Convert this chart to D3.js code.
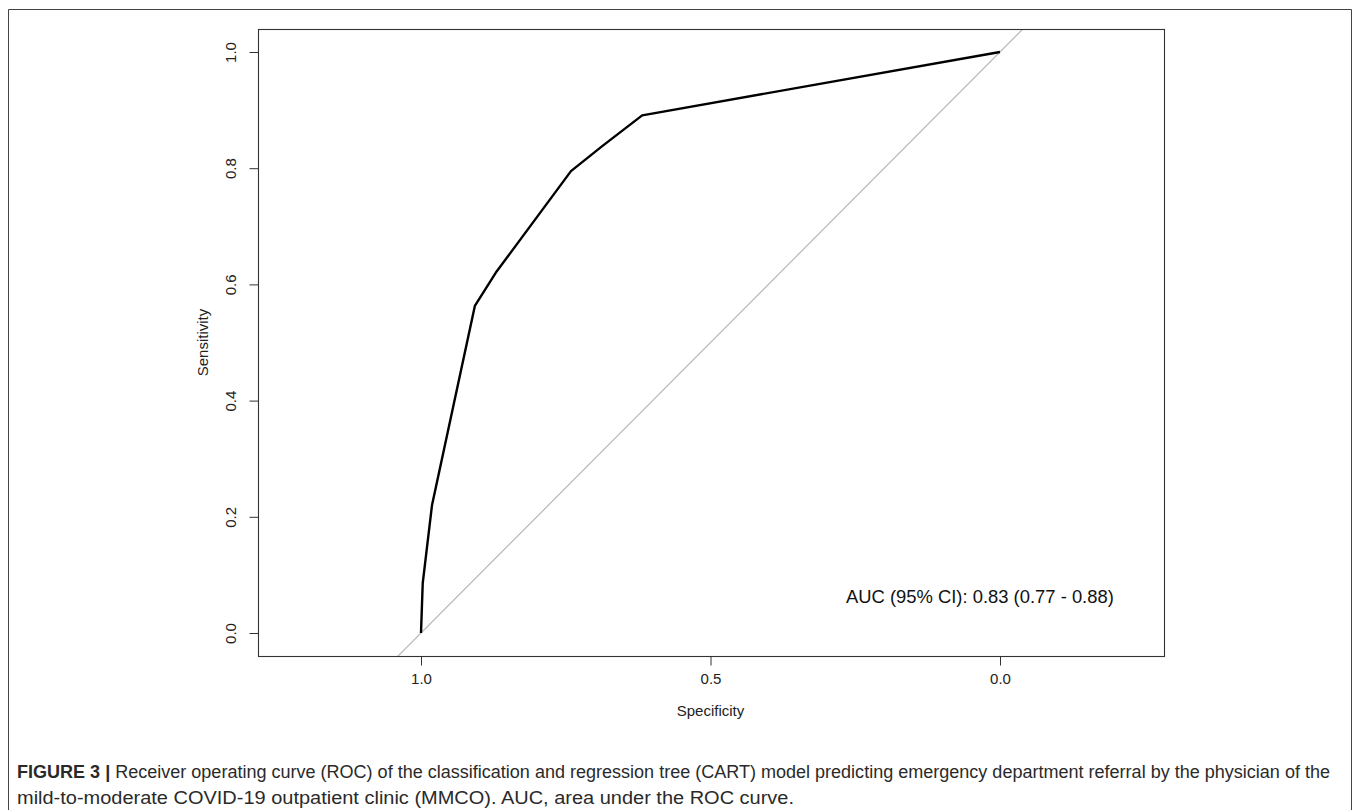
<!DOCTYPE html>
<html>
<head>
<meta charset="utf-8">
<script src="https://cdn.jsdelivr.net/npm/d3@7"></script>
<style>
  body { margin: 0; background: #fff; }
  svg { display: block; font-family: "Liberation Sans", Arial, Helvetica, sans-serif; }
  .tick text { font-family: "Liberation Sans", Arial, sans-serif; }
</style>
</head>
<body>
<svg id="chart" width="1358" height="810"></svg>
<script>
// ROC curve points (specificity, sensitivity)
var specificity = [1.0, 0.997, 0.981, 0.907, 0.871, 0.741, 0.687, 0.618, 0.0];
var sensitivity = [0.0, 0.086, 0.22, 0.563, 0.62, 0.795, 0.838, 0.891, 1.0];

var xTicks = [1.0, 0.5, 0.0];
var yTicks = [0.0, 0.2, 0.4, 0.6, 0.8, 1.0];
var aucLabel = "AUC (95% CI): 0.83 (0.77 - 0.88)";
var captionBold = "FIGURE 3 |";
var captionLine1 = " Receiver operating curve (ROC) of the classification and regression tree (CART) model predicting emergency department referral by the physician of the";
var captionLine2 = "mild-to-moderate COVID-19 outpatient clinic (MMCO). AUC, area under the ROC curve.";

var svg = d3.select("#chart");

// plot box in pixels
var box = {left: 258, top: 29, right: 1164, bottom: 656};

var xScale = d3.scaleLinear().domain([1, 0]).range([421, 1000]);
var yScale = d3.scaleLinear().domain([0, 1]).range([633, 52]);

// outer figure frame (open at the bottom, runs off the page)
svg.append("path")
  .attr("d", "M8.5,810 V9.5 H1351.5 V810")
  .attr("fill", "none")
  .attr("stroke", "#444")
  .attr("stroke-width", 1);

svg.append("defs").append("clipPath").attr("id", "plotclip")
  .append("rect")
  .attr("x", box.left).attr("y", box.top)
  .attr("width", box.right - box.left).attr("height", box.bottom - box.top);

// diagonal reference line: sens = 1 - spec, across the whole box
var diagSpec = [xScale.invert(box.left), xScale.invert(box.right)];
svg.append("line")
  .attr("clip-path", "url(#plotclip)")
  .attr("x1", xScale(diagSpec[0])).attr("y1", yScale(1 - diagSpec[0]))
  .attr("x2", xScale(diagSpec[1])).attr("y2", yScale(1 - diagSpec[1]))
  .attr("stroke", "#b8b8b8")
  .attr("stroke-width", 1.2);

// ROC curve
var pts = specificity.map(function(s, i){ return [s, sensitivity[i]]; });
var line = d3.line()
  .x(function(d){ return xScale(d[0]); })
  .y(function(d){ return yScale(d[1]); });

svg.append("path")
  .datum(pts)
  .attr("d", line)
  .attr("fill", "none")
  .attr("stroke", "#000")
  .attr("stroke-width", 2.4)
  .attr("stroke-linejoin", "round");

// plot box
svg.append("rect")
  .attr("x", box.left + 0.5).attr("y", box.top + 0.5)
  .attr("width", box.right - box.left).attr("height", box.bottom - box.top)
  .attr("fill", "none")
  .attr("stroke", "#333")
  .attr("stroke-width", 1.1);

// x axis
var xAxis = d3.axisBottom(xScale)
  .tickValues(xTicks)
  .tickSize(9)
  .tickPadding(8)
  .tickFormat(d3.format(".1f"));

var gx = svg.append("g")
  .attr("transform", "translate(0," + (box.bottom + 0.5) + ")")
  .call(xAxis);
gx.select(".domain").remove();
gx.selectAll(".tick line").attr("stroke", "#333");
gx.selectAll(".tick text")
  .attr("font-size", 15)
  .attr("fill", "#222");

// y axis with rotated labels
var yAxis = d3.axisLeft(yScale)
  .tickValues(yTicks)
  .tickSize(9)
  .tickFormat(d3.format(".1f"));

var gy = svg.append("g")
  .attr("transform", "translate(" + (box.left + 0.5) + ",0)")
  .call(yAxis);
gy.select(".domain").remove();
gy.selectAll(".tick line").attr("stroke", "#333");
gy.selectAll(".tick text")
  .attr("font-size", 15)
  .attr("fill", "#222")
  .attr("x", 0).attr("dy", 0)
  .attr("text-anchor", "middle")
  .attr("transform", "translate(-23,0) rotate(-90)");

// axis titles
svg.append("text")
  .attr("x", xScale(0.5))
  .attr("y", 716)
  .attr("text-anchor", "middle")
  .attr("font-size", 15)
  .attr("fill", "#222")
  .text("Specificity");

svg.append("text")
  .attr("transform", "translate(208," + yScale(0.5) + ") rotate(-90)")
  .attr("text-anchor", "middle")
  .attr("font-size", 15)
  .attr("fill", "#222")
  .text("Sensitivity");

// AUC annotation
svg.append("text")
  .attr("x", 846)
  .attr("y", 603)
  .attr("font-size", 18.4)
  .attr("fill", "#111")
  .text(aucLabel);

// caption (narrow face in the original, so squeeze to its measured width)
var cap1 = svg.append("text")
  .attr("x", 17)
  .attr("y", 778)
  .attr("font-size", 17.5)
  .attr("fill", "#2a2a2a")
  .attr("textLength", 1313)
  .attr("lengthAdjust", "spacingAndGlyphs");
cap1.append("tspan").attr("font-weight", "bold").text(captionBold);
cap1.append("tspan").text(captionLine1);

svg.append("text")
  .attr("x", 17)
  .attr("y", 804)
  .attr("font-size", 17.5)
  .attr("fill", "#2a2a2a")
  .attr("textLength", 777)
  .attr("lengthAdjust", "spacingAndGlyphs")
  .text(captionLine2);
</script>
</body>
</html>
